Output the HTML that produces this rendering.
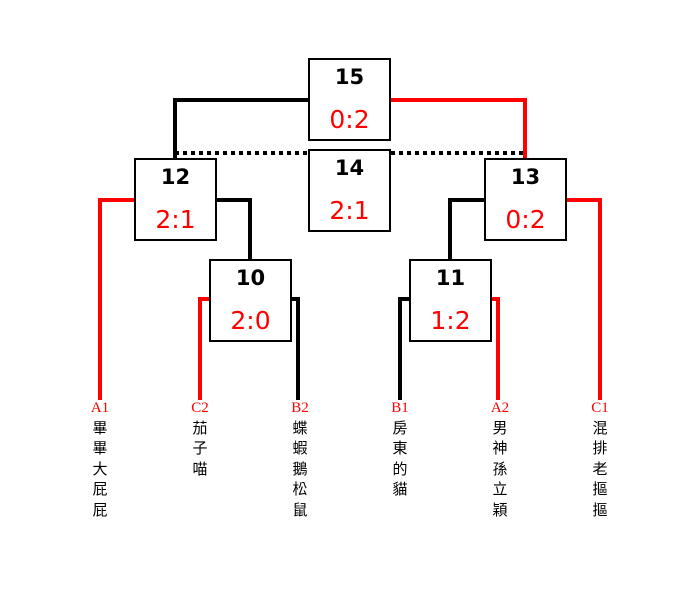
<!DOCTYPE html>
<html><head><meta charset="utf-8"><style>
body{margin:0;background:#fff;width:700px;height:600px;overflow:hidden;position:relative}
.box{position:absolute;width:79px;height:79px;border:2px solid #000;background:#fff;font-family:"DejaVu Sans","Liberation Sans",sans-serif;text-align:center}
.n{position:absolute;left:0;right:0;top:5px;font-size:21px;font-weight:bold;color:#000}
.s{position:absolute;left:0;right:0;top:45px;font-size:25px;color:#f00}
.lab{position:absolute;width:30px;text-align:center;font-family:"Liberation Serif","Noto Sans CJK TC",serif;font-size:15px;line-height:20.5px;top:398px}
.lab b{font-weight:normal;color:#f00;display:block}
</style></head><body>
<svg width="700" height="600" style="position:absolute;left:0;top:0" fill="none" stroke-width="4">
<polyline points="308,100 175,100 175,158" stroke="#000"/>
<polyline points="391,100 525,100 525,158" stroke="#f00"/>
<line x1="175" y1="153" x2="525" y2="153" stroke="#000" stroke-dasharray="4,4"/>
<polyline points="134,200 100,200 100,400" stroke="#f00"/>
<polyline points="216,200 250,200 250,259" stroke="#000"/>
<polyline points="209,299 200,299 200,400" stroke="#f00"/>
<polyline points="291,299 298,299 298,400" stroke="#000"/>
<polyline points="484,200 450,200 450,259" stroke="#000"/>
<polyline points="566,200 600,200 600,400" stroke="#f00"/>
<polyline points="409,299 400,299 400,400" stroke="#000"/>
<polyline points="491,299 498,299 498,400" stroke="#f00"/>
</svg>
<div class="box" style="left:308px;top:58px"><div class="n">15</div><div class="s">0:2</div></div>
<div class="box" style="left:308px;top:149px"><div class="n">14</div><div class="s">2:1</div></div>
<div class="box" style="left:134px;top:158px"><div class="n">12</div><div class="s">2:1</div></div>
<div class="box" style="left:484px;top:158px"><div class="n">13</div><div class="s">0:2</div></div>
<div class="box" style="left:209px;top:259px"><div class="n">10</div><div class="s">2:0</div></div>
<div class="box" style="left:409px;top:259px"><div class="n">11</div><div class="s">1:2</div></div>
<div class="lab" style="left:85px"><b>A1</b>畢<br>畢<br>大<br>屁<br>屁</div>
<div class="lab" style="left:185px"><b>C2</b>茄<br>子<br>喵</div>
<div class="lab" style="left:285px"><b>B2</b>蝶<br>蝦<br>鵝<br>松<br>鼠</div>
<div class="lab" style="left:385px"><b>B1</b>房<br>東<br>的<br>貓</div>
<div class="lab" style="left:485px"><b>A2</b>男<br>神<br>孫<br>立<br>穎</div>
<div class="lab" style="left:585px"><b>C1</b>混<br>排<br>老<br>摳<br>摳</div>
</body></html>
